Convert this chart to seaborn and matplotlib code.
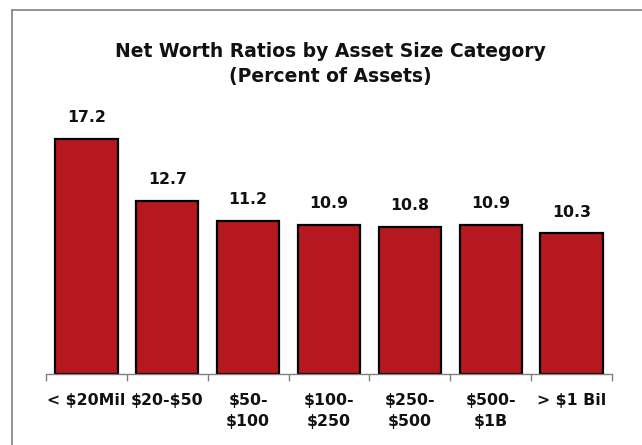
import matplotlib
matplotlib.use("Agg")
import matplotlib.pyplot as plt
import seaborn as sns
import pandas as pd
import numpy as np
from matplotlib.lines import Line2D

categories = ["< $20Mil", "$20-$50", "$50-\n$100", "$100-\n$250", "$250-\n$500", "$500-\n$1B", "> $1 Bil"]
values = [17.2, 12.7, 11.2, 10.9, 10.8, 10.9, 10.3]
value_labels = ["17.2", "12.7", "11.2", "10.9", "10.8", "10.9", "10.3"]
title = "Net Worth Ratios by Asset Size Category\n(Percent of Assets)"

sns.set_theme(style="white")
plt.rcParams['font.family'] = ['DejaVu Sans']
plt.rcParams['text.parse_math'] = False

df = pd.DataFrame({"cat": categories, "val": values})

fig = plt.figure(figsize=(6.42, 4.45), dpi=100)
ax = fig.add_axes([46/642, 1-374/445, (612-46)/642, 273/445])

sns.barplot(data=df, x="cat", y="val", color="#B5191F", saturation=1,
            edgecolor="black", linewidth=1.6, width=0.77, ax=ax)

ax.set_ylim(0, 20)
ax.set_xlim(-0.5, len(categories)-0.5)
for i, (v, lab) in enumerate(zip(values, value_labels)):
    ax.annotate(lab, (i, v), xytext=(0, 10), textcoords="offset points",
                ha="center", va="bottom", fontsize=11.3, fontweight="bold", color="#111111")

ax.set_xlabel("")
ax.set_ylabel("")
ax.set_yticks([])
for s in ["top", "right", "left"]:
    ax.spines[s].set_visible(False)
ax.spines["bottom"].set_color("#808080")
ax.spines["bottom"].set_linewidth(1.0)

ax.set_xticks(range(len(categories)))
ax.set_xticklabels(categories, fontsize=11.3, fontweight="bold", color="#111111", linespacing=1.5)
ax.tick_params(axis="x", which="major", length=0, pad=14)
ax.set_xticks(np.arange(-0.5, len(categories), 1.0), minor=True)
ax.tick_params(axis="x", which="minor", length=5, width=1, color="#808080", direction="out")
ax.xaxis.set_ticks_position("bottom")

fig.text(330/642, 1-64/445, title, ha="center", va="center", fontsize=13.5,
         fontweight="bold", color="#111111", linespacing=1.35)

fig.add_artist(Line2D([12/642, 1.0], [1-10/445, 1-10/445], transform=fig.transFigure, color="#808080", lw=1.2))
fig.add_artist(Line2D([12/642, 12/642], [1-10/445, 0.0], transform=fig.transFigure, color="#808080", lw=1.2))

fig.savefig("out.png", dpi=100)
